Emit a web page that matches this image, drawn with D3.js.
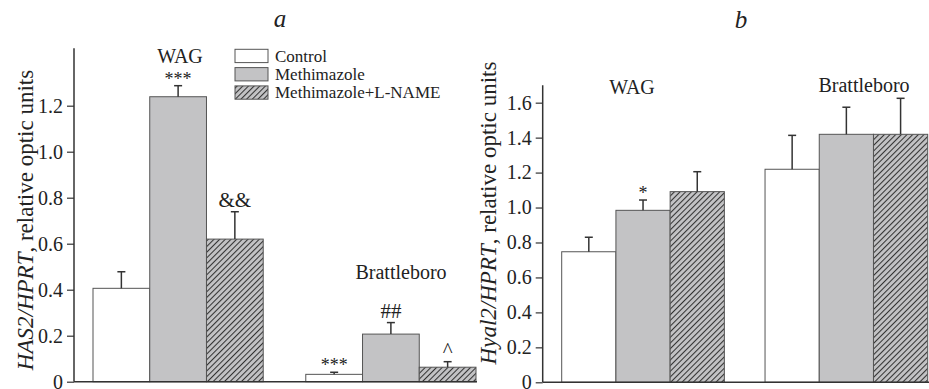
<!DOCTYPE html>
<html>
<head>
<meta charset="utf-8">
<script src="https://cdn.jsdelivr.net/npm/d3@7"></script>
<style>
    body { margin: 0; background: #fff; }
    svg text { font-family: "Liberation Serif", "Times New Roman", serif; fill: #222; }
</style>
</head>
<body>
<div id="chart-area"></div>
<script>

const groups = ['WAG', 'Brattleboro'];
const series = ['Control', 'Methimazole', 'Methimazole+L-NAME'];

// panel a: HAS2/HPRT
const has2Mean = [[0.406, 1.239, 0.620], [0.032, 0.207, 0.063]];
const has2Err = [[0.072, 0.048, 0.119], [0.009, 0.050, 0.024]];
const has2Marks = [['', '***', '&&'], ['***', '##', '^']];
const has2Ticks = [0, 0.2, 0.4, 0.6, 0.8, 1.0, 1.2];

// panel b: Hyal2/HPRT
const hyalMean = [[0.747, 0.984, 1.091], [1.219, 1.419, 1.419]];
const hyalErr = [[0.083, 0.059, 0.114], [0.194, 0.155, 0.206]];
const hyalMarks = [['', '*', ''], ['', '', '']];
const hyalTicks = [0, 0.2, 0.4, 0.6, 0.8, 1.0, 1.2, 1.4, 1.6];

window.addEventListener('DOMContentLoaded', (event) => {

    const svg = d3.select('#chart-area')
        .append('svg')
        .attr('width', 929)
        .attr('height', 389);

    const defs = svg.append('defs');
    const hatch = defs.append('pattern')
        .attr('id', 'hatch')
        .attr('patternUnits', 'userSpaceOnUse')
        .attr('width', 4)
        .attr('height', 4)
        .attr('patternTransform', 'rotate(45)');
    hatch.append('rect')
        .attr('width', 4)
        .attr('height', 4)
        .attr('fill', '#c3c3c5');
    hatch.append('line')
        .attr('x1', 0.5).attr('y1', 0)
        .attr('x2', 0.5).attr('y2', 4)
        .attr('stroke', '#333')
        .attr('stroke-width', 1.1);

    const fills = ['#ffffff', '#c3c3c5', 'url(#hatch)'];

    const panels = [
        {
            mean: has2Mean, err: has2Err, marks: has2Marks, ticks: has2Ticks,
            axisX: 74, baseEnd: 477, bars: [93, 476], yTop: 1.45, yPx: [381.7, 48.2],
            letter: 'a', letterX: 280, letterY: 27,
            titleX: 33, titleY: 220, titleItalic: 'HAS2/HPRT',
            labels: [{ t: 'WAG', x: 180, y: 63 }, { t: 'Brattleboro', x: 401, y: 279 }]
        },
        {
            mean: hyalMean, err: hyalErr, marks: hyalMarks, ticks: hyalTicks,
            axisX: 542.7, baseEnd: 929, bars: [561.7, 927.7], yTop: 1.7, yPx: [382.3, 85.2],
            letter: 'b', letterX: 741, letterY: 28,
            titleX: 496, titleY: 213, titleItalic: 'Hyal2/HPRT',
            labels: [{ t: 'WAG', x: 632, y: 94 }, { t: 'Brattleboro', x: 864, y: 92 }]
        }
    ];

    panels.forEach((p) => {
        const g = svg.append('g');

        const y = d3.scaleLinear()
            .domain([0, p.yTop])
            .range(p.yPx);

        const x0 = d3.scaleBand()
            .domain(groups)
            .range(p.bars)
            .paddingInner(0.2)
            .paddingOuter(0);

        const x1 = d3.scaleBand()
            .domain(series)
            .range([0, x0.bandwidth()]);

        const rows = [];
        groups.forEach((grp, gi) => {
            series.forEach((s, si) => {
                rows.push({ grp, s, si, v: p.mean[gi][si], e: p.err[gi][si], m: p.marks[gi][si] });
            });
        });

        // bars
        g.selectAll('rect.bar')
            .data(rows)
            .enter()
            .append('rect')
            .attr('class', 'bar')
            .attr('x', (d) => x0(d.grp) + x1(d.s))
            .attr('y', (d) => y(d.v))
            .attr('width', x1.bandwidth())
            .attr('height', (d) => y(0) - y(d.v))
            .attr('fill', (d) => fills[d.si])
            .attr('stroke', '#555')
            .attr('stroke-width', 1);

        // error bars
        const cx = (d) => x0(d.grp) + x1(d.s) + x1.bandwidth() / 2;
        g.selectAll('line.err')
            .data(rows)
            .enter()
            .append('line')
            .attr('x1', cx).attr('x2', cx)
            .attr('y1', (d) => y(d.v))
            .attr('y2', (d) => y(d.v + d.e))
            .attr('stroke', '#333')
            .attr('stroke-width', 1.5);
        g.selectAll('line.cap')
            .data(rows)
            .enter()
            .append('line')
            .attr('x1', (d) => cx(d) - 4).attr('x2', (d) => cx(d) + 4)
            .attr('y1', (d) => y(d.v + d.e))
            .attr('y2', (d) => y(d.v + d.e))
            .attr('stroke', '#333')
            .attr('stroke-width', 1.5);

        // significance marks
        g.selectAll('text.sig')
            .data(rows.filter((d) => d.m !== ''))
            .enter()
            .append('text')
            .attr('x', cx)
            .attr('y', (d) => y(d.v + d.e) + (d.m.indexOf('*') >= 0 ? -1 : -5))
            .attr('text-anchor', 'middle')
            .style('font-size', (d) => d.m.indexOf('*') >= 0 ? '18px' : '21px')
            .text((d) => d.m);

        // y axis
        const leftAxisCall = d3.axisLeft(y)
            .tickValues(p.ticks)
            .tickSize(7)
            .tickPadding(4)
            .tickFormat((d) => d === 0 ? '0' : d3.format('.1f')(d));

        const ax = g.append('g')
            .attr('transform', `translate(${p.axisX},0)`)
            .call(leftAxisCall);
        ax.select('.domain')
            .attr('d', `M0,${y(0)}V${y(p.yTop)}`)
            .attr('stroke', '#333')
            .attr('stroke-width', 1.5);
        ax.selectAll('.tick line').attr('stroke', '#333').attr('stroke-width', 1.2);
        ax.selectAll('.tick text')
            .style('font-family', '"Liberation Serif", serif')
            .style('font-size', '20px')
            .attr('fill', '#222');

        // baseline
        g.append('line')
            .attr('x1', p.axisX).attr('x2', p.baseEnd)
            .attr('y1', y(0)).attr('y2', y(0))
            .attr('stroke', '#333')
            .attr('stroke-width', 1.5);

        // group labels
        g.selectAll('text.grp')
            .data(p.labels)
            .enter()
            .append('text')
            .attr('x', (d) => d.x)
            .attr('y', (d) => d.y)
            .attr('text-anchor', 'middle')
            .style('font-size', '20px')
            .text((d) => d.t);

        // panel letter
        g.append('text')
            .attr('x', p.letterX)
            .attr('y', p.letterY)
            .attr('text-anchor', 'middle')
            .style('font-size', '25px')
            .style('font-style', 'italic')
            .text(p.letter);

        // y title
        const title = g.append('text')
            .attr('transform', `translate(${p.titleX},${p.titleY}) rotate(-90)`)
            .attr('text-anchor', 'middle')
            .style('font-size', '23px');
        title.append('tspan').style('font-style', 'italic').text(p.titleItalic);
        title.append('tspan').text(', relative optic units');
    });

    // legend (panel a)
    const legend = svg.append('g');
    series.forEach((s, i) => {
        legend.append('rect')
            .attr('x', 235)
            .attr('y', 49.3 + i * 18.3)
            .attr('width', 33)
            .attr('height', 13.3)
            .attr('fill', fills[i])
            .attr('stroke', '#555')
            .attr('stroke-width', 1);
        legend.append('text')
            .attr('x', 275)
            .attr('y', 61.5 + i * 18.3)
            .style('font-size', '17px')
            .text(s);
    });

}); // End of document ready.
</script>
</body>
</html>
